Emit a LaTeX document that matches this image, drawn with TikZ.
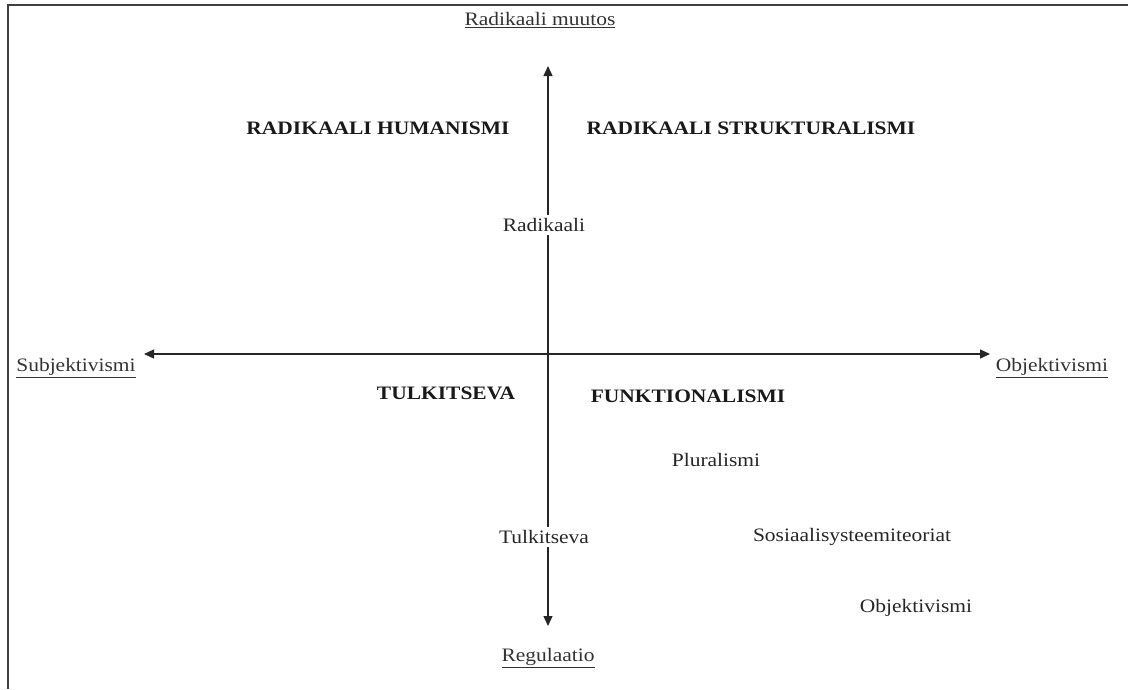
\documentclass[tikz,border=0pt]{standalone}
\usepackage{fontspec}
\setmainfont{Liberation Serif}[FakeStretch=1.13]
\usepackage{tikz}
\usetikzlibrary{arrows.meta,positioning}
\tikzset{
  every picture/.style = {
    x = 1pt,
    y = -1pt,
    >={Triangle[width=9pt,length=10pt]},
  }
  ,
  axis/.style = {
    line width = 1.3pt,
    draw = black!85
  }
  , % underlined ends of the axes
  pole/.style = {
    font = \fontsize{19}{21}\selectfont,
    text = black!80,
    inner sep = 1pt
  }
  , % names of the quadrants
  paradigm/.style = {
    font = \fontsize{19}{21}\selectfont\bfseries,
    text = black!90
  }
  , % plain labels
  label-axis/.style = {
    font = \fontsize{19}{21}\selectfont,
    text = black!85,
    fill = white,
    inner sep = 3pt
  }
}
\newcommand{\poletext}[1]{\underline{#1}}

\begin{document}
\begin{tikzpicture}
		\useasboundingbox (0,0) rectangle (1128,689);
		\draw[line width=2pt, black!75] (8,689) -- (8,5) -- (1128,5);
		% ends of the axes
		\node[pole] at (540,20) (up) {\poletext{Radikaali muutos}};
		\node[pole] at (76,368) (left) {\poletext{Subjektivismi}};
		\node[pole] at (1052,368) (right) {\poletext{Objektivismi}};
		\node[pole] at (548,658) (down) {\poletext{Regulaatio}};
		\coordinate (top) at (548,66);
		\coordinate (bottom) at (548,626);
		\coordinate (west) at (144,354);
		\coordinate (east) at (990,354);
		\draw[axis,<->] (top) -- (bottom);
		\draw[axis,<->] (west) -- (east);
		% quadrants
		\node[paradigm] at (378,128) (hum) {RADIKAALI HUMANISMI};
		\node[paradigm] at (751,128) (str) {RADIKAALI STRUKTURALISMI};
		\node[paradigm] at (446,393) (tul) {TULKITSEVA};
		\node[paradigm] at (688,396) (fun) {FUNKTIONALISMI};
		% on the vertical axis
		\node[label-axis] at (544,225) (rad) {Radikaali};
		\node[label-axis] at (544,537) (tlk) {Tulkitseva};
		% schools
		\node[label-axis] at (716,460) (plu) {Pluralismi};
		\node[label-axis] at (852,537) (sos) {Sosiaalisysteemiteoriat};
		\node[label-axis] at (916,608) (obj) {Objektivismi};
		\end{tikzpicture}
\end{document}
